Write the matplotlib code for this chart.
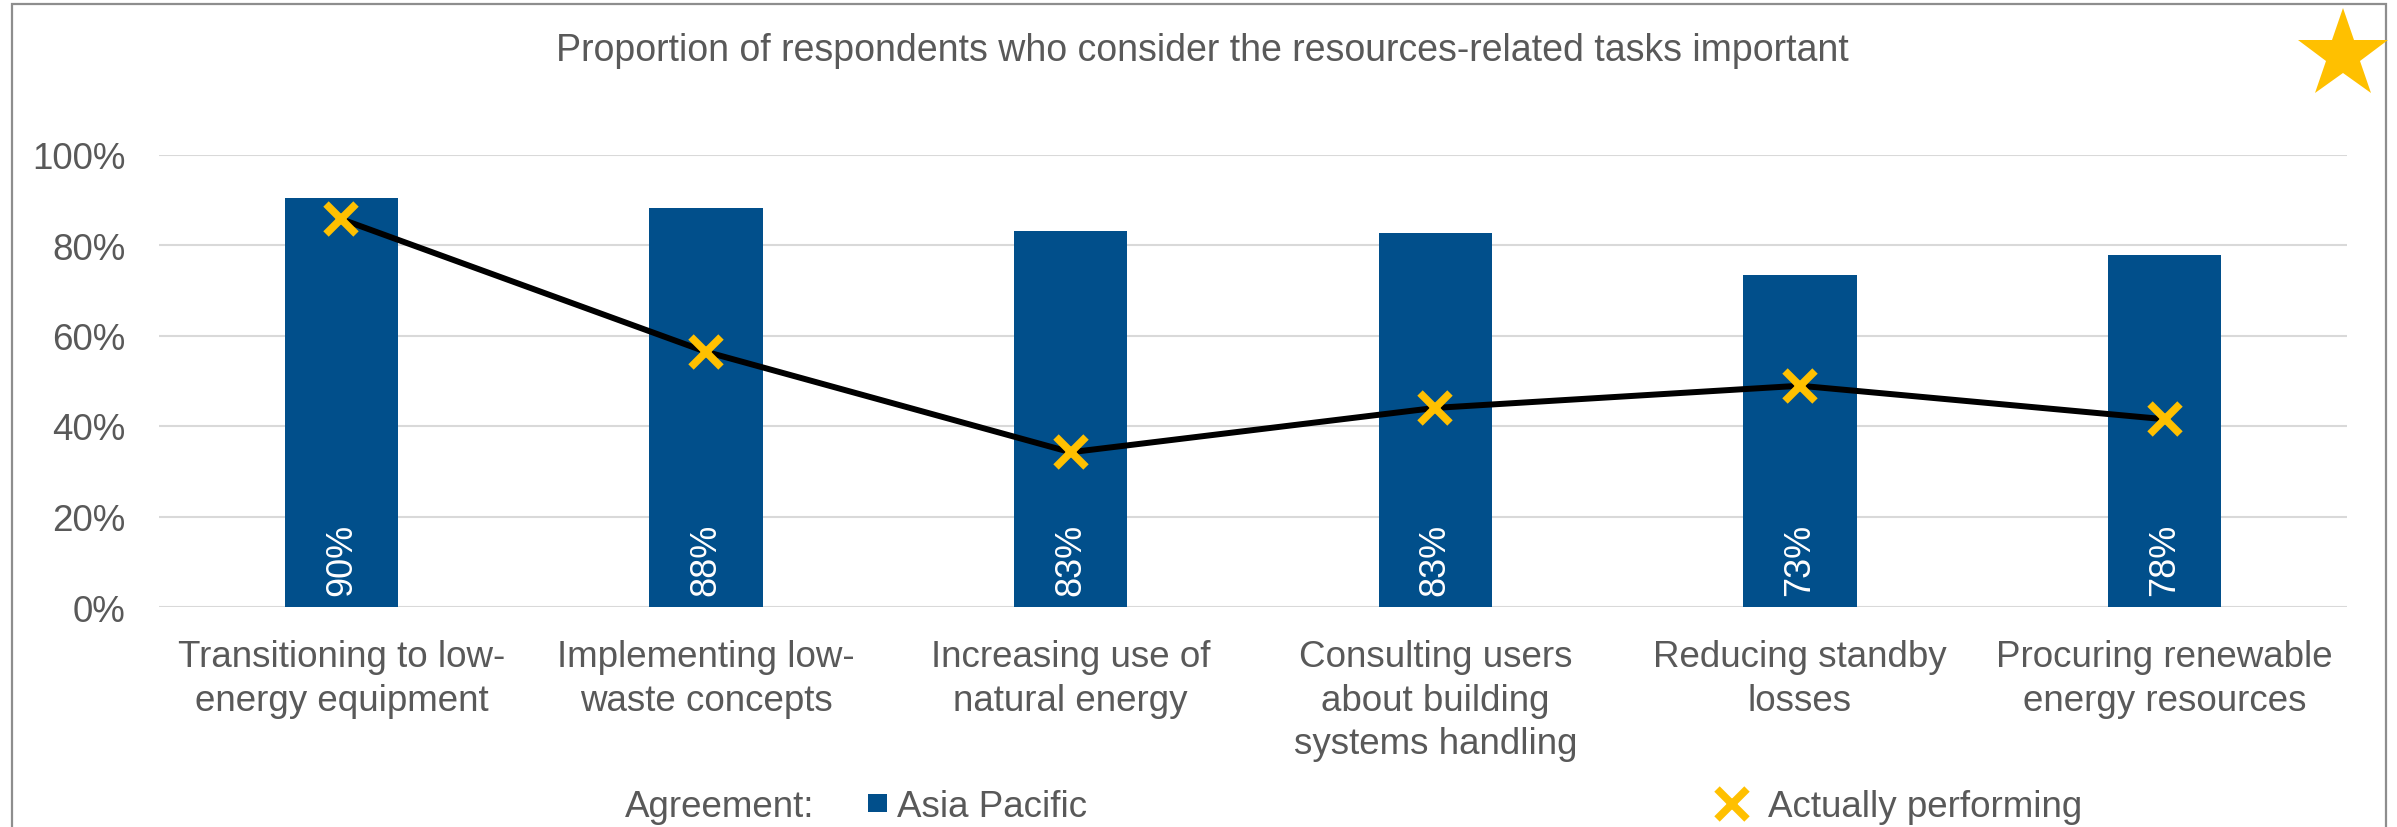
import matplotlib
matplotlib.use('Agg')
import matplotlib.pyplot as plt
from matplotlib.lines import Line2D
from matplotlib.patches import Rectangle
from matplotlib.ticker import FuncFormatter

plt.rcParams['font.family'] = ['Liberation Sans', 'DejaVu Sans']

categories = ["Transitioning to low-\nenergy equipment",
              "Implementing low-\nwaste concepts",
              "Increasing use of\nnatural energy",
              "Consulting users\nabout building\nsystems handling",
              "Reducing standby\nlosses",
              "Procuring renewable\nenergy resources"]
agreement = [90.4, 88.2, 83.2, 82.7, 73.4, 77.7]   # Asia Pacific, %
performing = [85.7, 56.4, 34.2, 44.0, 48.9, 41.5]  # actually performing, %
yticks = [0, 20, 40, 60, 80, 100]

blue = '#014F8B'
gold = '#FFC000'
grey = '#595959'

W, H = 2397, 828
fig = plt.figure(figsize=(W/100, H/100), dpi=100)
ax = fig.add_axes([159/W, 1-608/H, (2347-159)/W, (608-155.5)/H])

x = list(range(len(categories)))
ax.bar(x, agreement, width=0.31, color=blue, zorder=2)
ax.plot(x, performing, color='black', lw=4.3, zorder=3,
        marker='x', ms=21, mew=5.5, mec=gold)

for i, v in enumerate(agreement):
    ax.annotate("%d%%" % round(v), (i, 0), xytext=(0, 9), textcoords='offset points',
                rotation=90, ha='center', va='bottom', color='white', fontsize=26, zorder=4)

ax.set_xlim(-0.5, len(categories)-0.5)
ax.set_ylim(0, 100)
ax.set_yticks(yticks)
ax.yaxis.set_major_formatter(FuncFormatter(lambda v, p: "%d%%" % v))
ax.set_xticks(x)
ax.set_xticklabels(categories, fontsize=26.5, color=grey, linespacing=1.32)
ax.tick_params(axis='x', length=0, pad=23)
ax.tick_params(axis='y', length=0, pad=24, labelsize=26.5, labelcolor=grey)
ax.grid(axis='y', color='#D9D9D9', lw=1.5, zorder=0)
ax.set_axisbelow(True)
for s in ax.spines.values():
    s.set_visible(False)

fig.text(1202/W, 1-61/H, "Proportion of respondents who consider the resources-related tasks important",
         ha='center', va='baseline', fontsize=27, color=grey)

# legend
fig.text(625/W, 1-817/H, "Agreement:", ha='left', va='baseline', fontsize=26.5, color=grey)
fig.add_artist(Rectangle((868/W, 1-813/H), 19/W, 18/H, transform=fig.transFigure,
                         color=blue, lw=0))
fig.text(897/W, 1-817/H, "Asia Pacific", ha='left', va='baseline', fontsize=26.5, color=grey)
fig.add_artist(Line2D([1732/W], [1-805/H], transform=fig.transFigure, marker='x',
                      ms=22, mew=5.5, mec=gold, ls='none'))
fig.text(1768/W, 1-817/H, "Actually performing", ha='left', va='baseline', fontsize=26.5, color=grey)

# frame and star
fig.add_artist(Rectangle((12/W, -0.2), (2386-12)/W, 1.2-5/H, transform=fig.transFigure,
                         fill=False, ec='#8E8E8E', lw=1.6, clip_on=False))
fig.add_artist(Line2D([2343/W], [1-56/H], transform=fig.transFigure, marker='*',
                      ms=68, color=gold, mew=0, ls='none'))

fig.savefig('out.png', dpi=100)
